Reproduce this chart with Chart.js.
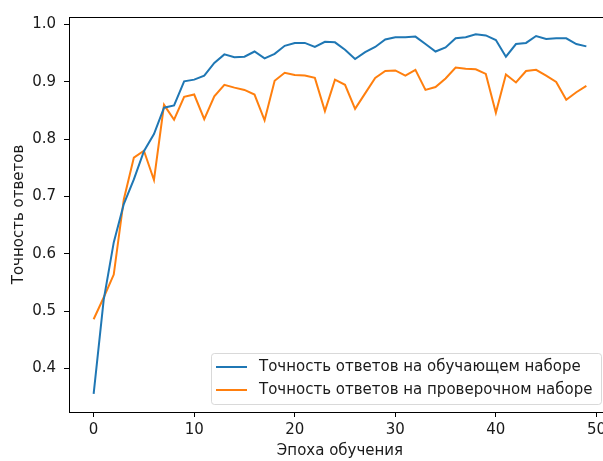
<!DOCTYPE html>
<html>
<head>
<meta charset="utf-8">
<script src="https://cdn.jsdelivr.net/npm/chart.js@4.4.0/dist/chart.umd.min.js"></script>
<style>
html, body { margin: 0; padding: 0; overflow: hidden; background: #fff; }
#wrap { width: 620px; height: 461px; }
</style>
</head>
<body>
<div id="wrap"><canvas id="chart"></canvas></div>
<script>
var epochs = [0, 1, 2, 3, 4, 5, 6, 7, 8, 9, 10, 11, 12, 13, 14, 15, 16, 17, 18, 19,
              20, 21, 22, 23, 24, 25, 26, 27, 28, 29, 30, 31, 32, 33, 34, 35, 36, 37, 38, 39,
              40, 41, 42, 43, 44, 45, 46, 47, 48, 49];
var trainAcc = [0.356, 0.520, 0.620, 0.687, 0.730, 0.779, 0.809, 0.855, 0.859, 0.901,
                0.904, 0.911, 0.933, 0.948, 0.943, 0.944, 0.953, 0.941, 0.949, 0.963,
                0.968, 0.968, 0.961, 0.970, 0.969, 0.956, 0.940, 0.952, 0.961, 0.974,
                0.978, 0.978, 0.979, 0.966, 0.953, 0.960, 0.976, 0.978, 0.983, 0.981,
                0.973, 0.944, 0.966, 0.968, 0.980, 0.975, 0.976, 0.976, 0.966, 0.962];
var valAcc = [0.486, 0.524, 0.564, 0.695, 0.768, 0.780, 0.729, 0.860, 0.834, 0.874,
              0.878, 0.835, 0.875, 0.895, 0.890, 0.886, 0.878, 0.833, 0.902, 0.916,
              0.912, 0.911, 0.907, 0.849, 0.904, 0.895, 0.853, 0.880, 0.907, 0.919,
              0.920, 0.911, 0.921, 0.886, 0.891, 0.906, 0.925, 0.923, 0.922, 0.914,
              0.846, 0.913, 0.899, 0.919, 0.921, 0.911, 0.900, 0.869, 0.882, 0.893];
var seriesNames = ['Точность ответов на обучающем наборе', 'Точность ответов на проверочном наборе'];
var xTicks = [0, 10, 20, 30, 40, 50];
var yTicks = [0.4, 0.5, 0.6, 0.7, 0.8, 0.9, 1.0];

var FONT = 'DejaVu Sans';
var FSIZE = 15;
var TEXT = '#1a1a1a';

function points(ys) {
    return ys.map(function(y, i) { return {x: epochs[i], y: y}; });
}

// axes frame + legend box in the lower right, matplotlib style
var framePlugin = {
    id: 'frame',
    afterDraw: function(chart) {
        var a = chart.chartArea, ctx = chart.ctx;
        ctx.save();
        ctx.strokeStyle = '#000';
        ctx.lineWidth = 1;
        ctx.strokeRect(Math.round(a.left) + 0.5, Math.round(a.top) + 0.5,
                       Math.round(a.right - a.left), Math.round(a.bottom - a.top));

        ctx.font = FSIZE + 'px "' + FONT + '"';
        var sets = chart.data.datasets;
        var textW = 0;
        sets.forEach(function(ds) { textW = Math.max(textW, ctx.measureText(ds.label).width); });
        var right = a.right - 10, bottom = a.bottom - 8;
        var w = Math.round(48 + textW + 9), h = 51;
        var left = Math.round(right - w), top = bottom - h;
        ctx.globalAlpha = 0.8;
        ctx.fillStyle = '#fff';
        ctx.strokeStyle = '#d0d0d0';
        ctx.beginPath();
        ctx.roundRect(left + 0.5, top + 0.5, w, h, 3);
        ctx.fill();
        ctx.stroke();
        ctx.globalAlpha = 1;
        ctx.textBaseline = 'middle';
        ctx.textAlign = 'left';
        sets.forEach(function(ds, i) {
            var y = top + 14 + i * 23;
            ctx.strokeStyle = ds.borderColor;
            ctx.lineWidth = 2;
            ctx.beginPath();
            ctx.moveTo(left + 5, y);
            ctx.lineTo(left + 36, y);
            ctx.stroke();
            ctx.fillStyle = TEXT;
            ctx.fillText(ds.label, left + 48, y);
        });
        ctx.restore();
    }
};

new Chart(document.getElementById('chart'), {
    type: 'line',
    data: {
        datasets: [
            { label: seriesNames[0], data: points(trainAcc), borderColor: '#1f77b4', borderWidth: 2, pointRadius: 0, tension: 0 },
            { label: seriesNames[1], data: points(valAcc), borderColor: '#ff7f0e', borderWidth: 2, pointRadius: 0, tension: 0 }
        ]
    },
    options: {
        responsive: true,
        maintainAspectRatio: false,
        animation: false,
        events: [],
        layout: { padding: { top: 9, right: 9, left: 0, bottom: 0 } },
        plugins: { legend: { display: false }, tooltip: { enabled: false } },
        scales: {
            x: {
                type: 'linear',
                min: -2.45,
                max: 51.45,
                afterBuildTicks: function(scale) { scale.ticks = xTicks.map(function(v) { return {value: v}; }); },
                afterFit: function(scale) { scale.height = 49; },
                grid: { drawOnChartArea: false, drawTicks: true, tickLength: 5, tickColor: '#000' },
                border: { display: false },
                ticks: { color: TEXT, font: { family: FONT, size: FSIZE }, padding: 4, maxRotation: 0, autoSkip: false },
                title: { display: true, text: 'Эпоха обучения', color: TEXT, font: { family: FONT, size: FSIZE }, padding: { top: 0, bottom: 1 } }
            },
            y: {
                min: 0.3243,
                max: 1.0132,
                afterBuildTicks: function(scale) { scale.ticks = yTicks.map(function(v) { return {value: v}; }); },
                afterFit: function(scale) { scale.width = 69; },
                grid: { drawOnChartArea: false, drawTicks: true, tickLength: 5, tickColor: '#000' },
                border: { display: false },
                ticks: { color: TEXT, font: { family: FONT, size: FSIZE }, padding: 8, autoSkip: false,
                         callback: function(v) { return v.toFixed(1); } },
                title: { display: true, text: 'Точность ответов', color: TEXT, font: { family: FONT, size: FSIZE }, padding: { top: 10, bottom: 0 } }
            }
        }
    },
    plugins: [framePlugin]
});
</script>
</body>
</html>
